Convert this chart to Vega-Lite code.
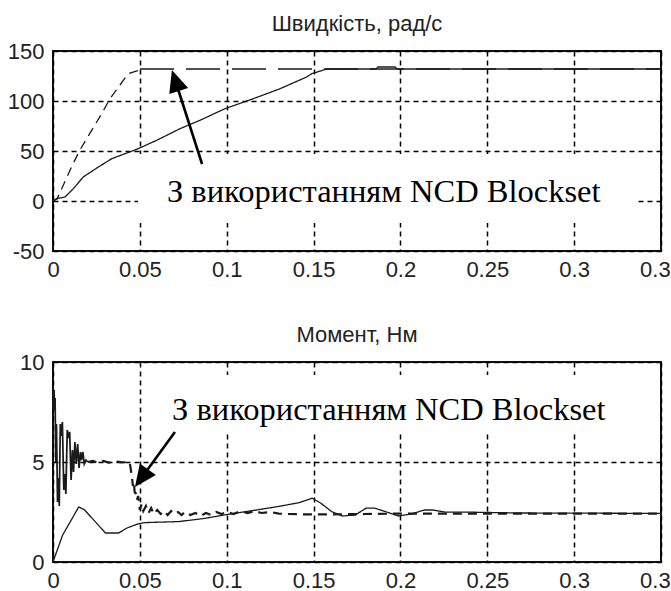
{
  "$schema": "https://vega.github.io/schema/vega-lite/v6.json",
  "background": "white",
  "padding": {"left": 6, "top": 12, "right": 0, "bottom": 0},
  "spacing": 42,
  "config": {
    "view": {"stroke": "#111111", "strokeWidth": 2},
    "axis": {
      "labelFont": "Liberation Sans",
      "labelFontSize": 22,
      "labelColor": "#222222",
      "grid": true,
      "gridColor": "#000000",
      "gridDash": [5, 4],
      "gridWidth": 1.5,
      "domain": false,
      "ticks": false,
      "title": null
    },
    "axisX": {"labelPadding": 8, "labelFlush": false},
    "axisY": {"labelPadding": 9},
    "title": {"font": "Liberation Sans", "fontSize": 22, "fontWeight": "normal", "color": "#222222", "offset": 4, "baseline": "alphabetic"}
  },
  "datasets": {
    "speed": [
      {"t": 0, "v": 0, "s": "base"},
      {"t": 0.0021, "v": 2.3, "s": "base"},
      {"t": 0.0069, "v": 4, "s": "base"},
      {"t": 0.0117, "v": 12.3, "s": "base"},
      {"t": 0.0174, "v": 24, "s": "base"},
      {"t": 0.0261, "v": 34, "s": "base"},
      {"t": 0.0338, "v": 42.3, "s": "base"},
      {"t": 0.0482, "v": 51.7, "s": "base"},
      {"t": 0.0597, "v": 60.7, "s": "base"},
      {"t": 0.0731, "v": 72.3, "s": "base"},
      {"t": 0.0846, "v": 80.7, "s": "base"},
      {"t": 0.099, "v": 92.3, "s": "base"},
      {"t": 0.1153, "v": 102.3, "s": "base"},
      {"t": 0.1307, "v": 112.3, "s": "base"},
      {"t": 0.146, "v": 124, "s": "base"},
      {"t": 0.1489, "v": 127.3, "s": "base"},
      {"t": 0.1576, "v": 132, "s": "base"},
      {"t": 0.186, "v": 132, "s": "base"},
      {"t": 0.187, "v": 134, "s": "base"},
      {"t": 0.197, "v": 134, "s": "base"},
      {"t": 0.198, "v": 132, "s": "base"},
      {"t": 0.35, "v": 132, "s": "base"},
      {"t": 0, "v": 0, "s": "ncd_rise"},
      {"t": 0.0023, "v": 2, "s": "ncd_rise"},
      {"t": 0.0111, "v": 35.7, "s": "ncd_rise"},
      {"t": 0.0155, "v": 51, "s": "ncd_rise"},
      {"t": 0.028, "v": 87.3, "s": "ncd_rise"},
      {"t": 0.0328, "v": 102.3, "s": "ncd_rise"},
      {"t": 0.0433, "v": 127.3, "s": "ncd_rise"},
      {"t": 0.0501, "v": 131, "s": "ncd_rise"},
      {"t": 0.0501, "v": 132, "s": "ncd_flat"},
      {"t": 0.35, "v": 132, "s": "ncd_flat"}
    ],
    "torque": [
      {"t": 0, "m": 0, "s": "base"},
      {"t": 0.0055, "m": 1.34, "s": "base"},
      {"t": 0.0148, "m": 2.75, "s": "base"},
      {"t": 0.018, "m": 2.62, "s": "base"},
      {"t": 0.0302, "m": 1.45, "s": "base"},
      {"t": 0.0377, "m": 1.45, "s": "base"},
      {"t": 0.0426, "m": 1.7, "s": "base"},
      {"t": 0.0488, "m": 1.9, "s": "base"},
      {"t": 0.0526, "m": 1.97, "s": "base"},
      {"t": 0.0724, "m": 2.02, "s": "base"},
      {"t": 0.0873, "m": 2.18, "s": "base"},
      {"t": 0.0984, "m": 2.35, "s": "base"},
      {"t": 0.117, "m": 2.6, "s": "base"},
      {"t": 0.1294, "m": 2.77, "s": "base"},
      {"t": 0.1418, "m": 2.97, "s": "base"},
      {"t": 0.1492, "m": 3.19, "s": "base"},
      {"t": 0.1542, "m": 2.94, "s": "base"},
      {"t": 0.1604, "m": 2.52, "s": "base"},
      {"t": 0.1666, "m": 2.3, "s": "base"},
      {"t": 0.174, "m": 2.35, "s": "base"},
      {"t": 0.1802, "m": 2.69, "s": "base"},
      {"t": 0.1852, "m": 2.69, "s": "base"},
      {"t": 0.1914, "m": 2.52, "s": "base"},
      {"t": 0.1988, "m": 2.3, "s": "base"},
      {"t": 0.2062, "m": 2.4, "s": "base"},
      {"t": 0.2137, "m": 2.6, "s": "base"},
      {"t": 0.2186, "m": 2.6, "s": "base"},
      {"t": 0.2261, "m": 2.49, "s": "base"},
      {"t": 0.2409, "m": 2.49, "s": "base"},
      {"t": 0.27, "m": 2.45, "s": "base"},
      {"t": 0.35, "m": 2.43, "s": "base"},
      {"t": 0, "m": 8.6, "s": "ncd_osc"},
      {"t": 0.0003, "m": 7.6, "s": "ncd_osc"},
      {"t": 0.0006, "m": 8.6, "s": "ncd_osc"},
      {"t": 0.0009, "m": 7.7, "s": "ncd_osc"},
      {"t": 0.0012, "m": 8.2, "s": "ncd_osc"},
      {"t": 0.0016, "m": 5.0, "s": "ncd_osc"},
      {"t": 0.002, "m": 6.9, "s": "ncd_osc"},
      {"t": 0.0026, "m": 3.0, "s": "ncd_osc"},
      {"t": 0.0032, "m": 4.2, "s": "ncd_osc"},
      {"t": 0.0036, "m": 2.8, "s": "ncd_osc"},
      {"t": 0.0042, "m": 6.9, "s": "ncd_osc"},
      {"t": 0.0048, "m": 6.3, "s": "ncd_osc"},
      {"t": 0.0054, "m": 7.0, "s": "ncd_osc"},
      {"t": 0.0062, "m": 3.6, "s": "ncd_osc"},
      {"t": 0.0068, "m": 4.4, "s": "ncd_osc"},
      {"t": 0.0074, "m": 3.4, "s": "ncd_osc"},
      {"t": 0.0082, "m": 6.6, "s": "ncd_osc"},
      {"t": 0.009, "m": 6.2, "s": "ncd_osc"},
      {"t": 0.0096, "m": 6.5, "s": "ncd_osc"},
      {"t": 0.0104, "m": 4.1, "s": "ncd_osc"},
      {"t": 0.0112, "m": 5.6, "s": "ncd_osc"},
      {"t": 0.0118, "m": 4.5, "s": "ncd_osc"},
      {"t": 0.0126, "m": 6.0, "s": "ncd_osc"},
      {"t": 0.0134, "m": 4.9, "s": "ncd_osc"},
      {"t": 0.0142, "m": 5.9, "s": "ncd_osc"},
      {"t": 0.015, "m": 4.7, "s": "ncd_osc"},
      {"t": 0.0158, "m": 5.5, "s": "ncd_osc"},
      {"t": 0.0164, "m": 5.1, "s": "ncd_osc"},
      {"t": 0.0172, "m": 5.5, "s": "ncd_osc"},
      {"t": 0.018, "m": 4.9, "s": "ncd_osc"},
      {"t": 0.019, "m": 5.1, "s": "ncd_osc"},
      {"t": 0.02, "m": 5.0, "s": "ncd_osc"},
      {"t": 0.02, "m": 5.0, "s": "ncd"},
      {"t": 0.023, "m": 5.05, "s": "ncd"},
      {"t": 0.026, "m": 4.95, "s": "ncd"},
      {"t": 0.029, "m": 5.05, "s": "ncd"},
      {"t": 0.032, "m": 4.97, "s": "ncd"},
      {"t": 0.036, "m": 5.03, "s": "ncd"},
      {"t": 0.04, "m": 4.98, "s": "ncd"},
      {"t": 0.044, "m": 5.0, "s": "ncd"},
      {"t": 0.0445, "m": 4.8, "s": "ncd"},
      {"t": 0.0455, "m": 4.2, "s": "ncd"},
      {"t": 0.046, "m": 3.8, "s": "ncd"},
      {"t": 0.0465, "m": 4.0, "s": "ncd"},
      {"t": 0.047, "m": 3.5, "s": "ncd"},
      {"t": 0.0478, "m": 3.4, "s": "ncd"},
      {"t": 0.0483, "m": 3.1, "s": "ncd"},
      {"t": 0.049, "m": 3.3, "s": "ncd"},
      {"t": 0.0495, "m": 3.0, "s": "ncd"},
      {"t": 0.05, "m": 2.6, "s": "ncd"},
      {"t": 0.051, "m": 2.9, "s": "ncd"},
      {"t": 0.052, "m": 2.55, "s": "ncd"},
      {"t": 0.0535, "m": 2.8, "s": "ncd"},
      {"t": 0.055, "m": 2.45, "s": "ncd"},
      {"t": 0.0565, "m": 2.7, "s": "ncd"},
      {"t": 0.058, "m": 2.4, "s": "ncd"},
      {"t": 0.06, "m": 2.6, "s": "ncd"},
      {"t": 0.062, "m": 2.4, "s": "ncd"},
      {"t": 0.064, "m": 2.55, "s": "ncd"},
      {"t": 0.066, "m": 2.35, "s": "ncd"},
      {"t": 0.068, "m": 2.55, "s": "ncd"},
      {"t": 0.07, "m": 2.4, "s": "ncd"},
      {"t": 0.072, "m": 2.5, "s": "ncd"},
      {"t": 0.074, "m": 2.35, "s": "ncd"},
      {"t": 0.076, "m": 2.5, "s": "ncd"},
      {"t": 0.079, "m": 2.35, "s": "ncd"},
      {"t": 0.082, "m": 2.45, "s": "ncd"},
      {"t": 0.085, "m": 2.3, "s": "ncd"},
      {"t": 0.088, "m": 2.45, "s": "ncd"},
      {"t": 0.091, "m": 2.35, "s": "ncd"},
      {"t": 0.094, "m": 2.5, "s": "ncd"},
      {"t": 0.097, "m": 2.4, "s": "ncd"},
      {"t": 0.1, "m": 2.5, "s": "ncd"},
      {"t": 0.104, "m": 2.4, "s": "ncd"},
      {"t": 0.108, "m": 2.55, "s": "ncd"},
      {"t": 0.112, "m": 2.45, "s": "ncd"},
      {"t": 0.116, "m": 2.55, "s": "ncd"},
      {"t": 0.12, "m": 2.45, "s": "ncd"},
      {"t": 0.125, "m": 2.5, "s": "ncd"},
      {"t": 0.13, "m": 2.42, "s": "ncd"},
      {"t": 0.135, "m": 2.4, "s": "ncd"},
      {"t": 0.145, "m": 2.38, "s": "ncd"},
      {"t": 0.16, "m": 2.38, "s": "ncd"},
      {"t": 0.18, "m": 2.4, "s": "ncd"},
      {"t": 0.2, "m": 2.42, "s": "ncd"},
      {"t": 0.25, "m": 2.42, "s": "ncd"},
      {"t": 0.3, "m": 2.42, "s": "ncd"},
      {"t": 0.35, "m": 2.42, "s": "ncd"}
    ],
    "speedNote": [
      {"x0": 0.0489, "x1": 0.3368, "y0": 47, "y1": -22, "tx": 0.0656, "ty": -1, "label": "З використанням NCD Blockset", "ax": 0.0858, "ay": 37, "hx": 0.0704, "hy": 120.5}
    ],
    "torqueNote": [
      {"x0": 0.053, "x1": 0.3264, "y0": 9.35, "y1": 6.4, "tx": 0.0685, "ty": 7.1, "label": "З використанням NCD Blockset", "ax": 0.0702, "ay": 6.5, "hx": 0.0509, "hy": 4.195}
    ]
  },
  "vconcat": [
    {
      "width": 608,
      "height": 200,
      "title": "Швидкість, рад/с",
      "layer": [
        {
          "data": {"name": "speedNote"},
          "mark": {"type": "rect", "fill": "white", "strokeWidth": 0},
          "encoding": {
            "x": {"field": "x0", "type": "quantitative", "scale": {"domain": [0, 0.35], "nice": false, "zero": false}, "axis": {"values": [0, 0.05, 0.1, 0.15, 0.2, 0.25, 0.3, 0.35], "format": ".2~f"}},
            "x2": {"field": "x1"},
            "y": {"field": "y0", "type": "quantitative", "scale": {"domain": [-50, 150], "nice": false, "zero": false}, "axis": {"values": [-50, 0, 50, 100, 150], "labelExpr": "replace(datum.label, '−', '-')"}},
            "y2": {"field": "y1"}
          }
        },
        {
          "data": {"name": "speed"},
          "mark": {"type": "line", "color": "#1a1a1a", "strokeWidth": 1.3},
          "encoding": {
            "x": {"field": "t", "type": "quantitative"},
            "y": {"field": "v", "type": "quantitative"},
            "strokeDash": {"field": "s", "type": "nominal", "scale": {"domain": ["base", "ncd_rise", "ncd_flat"], "range": [[1, 0], [9, 6], [34, 12]]}, "legend": null}
          }
        },
        {
          "data": {"name": "speedNote"},
          "mark": {"type": "rule", "color": "black", "strokeWidth": 2.6},
          "encoding": {
            "x": {"field": "ax", "type": "quantitative"},
            "y": {"field": "ay", "type": "quantitative"},
            "x2": {"field": "hx"},
            "y2": {"field": "hy"}
          }
        },
        {
          "data": {"name": "speedNote"},
          "mark": {"type": "point", "shape": "M0,-1L-0.9,1L0.9,1Z", "filled": true, "color": "black", "opacity": 1, "size": 484, "angle": 342},
          "encoding": {
            "x": {"field": "hx", "type": "quantitative"},
            "y": {"field": "hy", "type": "quantitative"}
          }
        },
        {
          "data": {"name": "speedNote"},
          "mark": {"type": "text", "font": "Liberation Serif", "fontSize": 32.5, "align": "left", "baseline": "alphabetic", "color": "black"},
          "encoding": {
            "x": {"field": "tx", "type": "quantitative"},
            "y": {"field": "ty", "type": "quantitative"},
            "text": {"field": "label"}
          }
        }
      ]
    },
    {
      "width": 608,
      "height": 200,
      "title": "Момент, Нм",
      "layer": [
        {
          "data": {"name": "torqueNote"},
          "mark": {"type": "rect", "fill": "white", "strokeWidth": 0},
          "encoding": {
            "x": {"field": "x0", "type": "quantitative", "scale": {"domain": [0, 0.35], "nice": false, "zero": false}, "axis": {"values": [0, 0.05, 0.1, 0.15, 0.2, 0.25, 0.3, 0.35], "format": ".2~f"}},
            "x2": {"field": "x1"},
            "y": {"field": "y0", "type": "quantitative", "scale": {"domain": [0, 10], "nice": false, "zero": false}, "axis": {"values": [0, 5, 10]}},
            "y2": {"field": "y1"}
          }
        },
        {
          "data": {"name": "torque"},
          "mark": {"type": "line", "color": "#1a1a1a"},
          "encoding": {
            "x": {"field": "t", "type": "quantitative"},
            "y": {"field": "m", "type": "quantitative"},
            "strokeDash": {"field": "s", "type": "nominal", "scale": {"domain": ["base", "ncd_osc", "ncd"], "range": [[1, 0], [1, 0], [7, 3]]}, "legend": null},
            "strokeWidth": {"field": "s", "type": "nominal", "scale": {"domain": ["base", "ncd_osc", "ncd"], "range": [1.3, 2.2, 1.3]}, "legend": null}
          }
        },
        {
          "data": {"name": "torqueNote"},
          "mark": {"type": "rule", "color": "black", "strokeWidth": 2.6},
          "encoding": {
            "x": {"field": "ax", "type": "quantitative"},
            "y": {"field": "ay", "type": "quantitative"},
            "x2": {"field": "hx"},
            "y2": {"field": "hy"}
          }
        },
        {
          "data": {"name": "torqueNote"},
          "mark": {"type": "point", "shape": "M0,-1L-0.9,1L0.9,1Z", "filled": true, "color": "black", "opacity": 1, "size": 484, "angle": 216},
          "encoding": {
            "x": {"field": "hx", "type": "quantitative"},
            "y": {"field": "hy", "type": "quantitative"}
          }
        },
        {
          "data": {"name": "torqueNote"},
          "mark": {"type": "text", "font": "Liberation Serif", "fontSize": 32.5, "align": "left", "baseline": "alphabetic", "color": "black"},
          "encoding": {
            "x": {"field": "tx", "type": "quantitative"},
            "y": {"field": "ty", "type": "quantitative"},
            "text": {"field": "label"}
          }
        }
      ]
    }
  ]
}
